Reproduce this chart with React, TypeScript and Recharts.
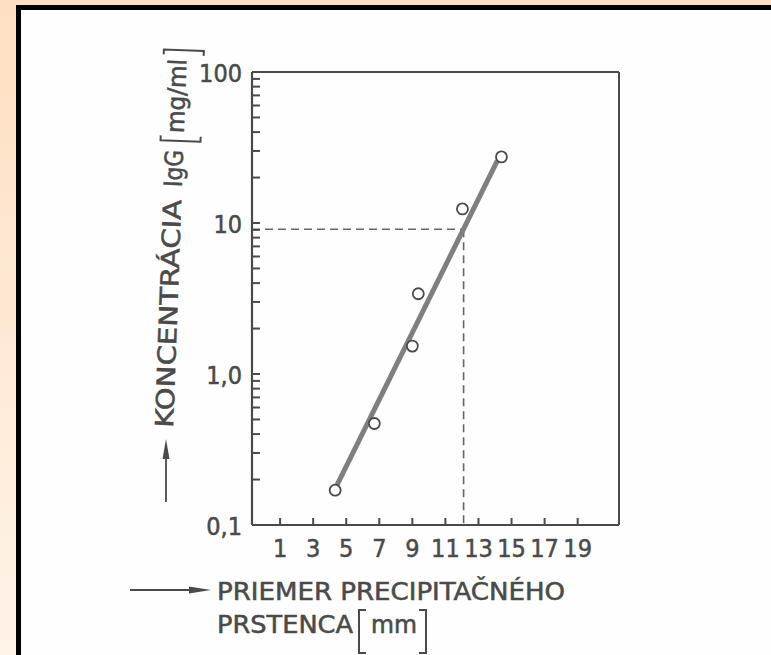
import { ComposedChart, Scatter, XAxis, YAxis, ReferenceLine } from 'recharts';

// measured values (diameter in mm, IgG in mg/ml)
const diameters = [4.33, 6.7, 9.0, 9.36, 12.03, 14.39];
const concentrations = [0.17, 0.47, 1.53, 3.4, 12.4, 27.4];

// hand-drawn calibration line
const fitDiameters = [4.38, 14.15];
const fitConcentrations = [0.178, 26];

// read-off of an unknown sample
const readDiameter = 12.1;
const readConcentration = 9.1;

const xTicks = [1, 3, 5, 7, 9, 11, 13, 15, 17, 19];
const yTicks = [
  0.1, 0.2, 0.3, 0.4, 0.5, 0.6, 0.7, 0.8, 0.9,
  1, 2, 3, 4, 5, 6, 7, 8, 9,
  10, 20, 30, 40, 50, 60, 70, 80, 90,
  100,
];
const yMajorTicks = [0.1, 1, 10, 100];
const yMajorLabels = ['0,1', '1,0', '10', '100'];

const X_MIN = -0.7;
const X_MAX = 21.5;
const Y_MIN = 0.1;
const Y_MAX = 100;

const INK = '#4a4a4a';
const FONT = "'Liberation Sans Narrow', 'DejaVu Sans Condensed', 'Liberation Sans', sans-serif";

const points = diameters.map((x, i) => ({ x, y: concentrations[i] }));
const fitLine = fitDiameters.map((x, i) => ({ x, y: fitConcentrations[i] }));
// tick marks sit on the axes, drawn inward
const yTickMarks = yTicks.map((y) => ({ x: X_MIN, y }));
const xTickMarks = xTicks.map((x) => ({ x, y: Y_MIN }));

const inkText = { fill: INK, stroke: INK, strokeWidth: 0.5, fontSize: 25, fontFamily: FONT };

function YTick({ x, y, payload }: any) {
  const i = yMajorTicks.indexOf(payload.value);
  if (i < 0) return <g />;
  return (
    <text x={x - 10} y={y + 10} textAnchor="end" {...inkText}>
      {yMajorLabels[i]}
    </text>
  );
}

function XTick({ x, y, payload }: any) {
  return (
    <text x={x} y={y + 32} textAnchor="middle" {...inkText}>
      {payload.value}
    </text>
  );
}

function Circle({ cx, cy }: any) {
  return <circle cx={cx} cy={cy} r={5.5} fill="#fff" stroke={INK} strokeWidth={1.8} />;
}

function YMark({ cx, cy }: any) {
  return <path d={`M${cx} ${cy} H${cx + 8}`} stroke={INK} strokeWidth={2} fill="none" />;
}

function XMark({ cx, cy }: any) {
  return <path d={`M${cx} ${cy} V${cy - 7}`} stroke={INK} strokeWidth={2} fill="none" />;
}

function Labels() {
  const txt = { ...inkText, lengthAdjust: 'spacingAndGlyphs' as const };
  return (
    <svg width={771} height={655} style={{ position: 'absolute', left: 0, top: 0, pointerEvents: 'none' }}>
      {/* y axis title, slightly skewed like the scan */}
      <g transform="translate(173 428) rotate(-87.9)">
        <text x={0} y={0} textLength={228} {...txt}>KONCENTRÁCIA</text>
        <text x={241} y={0} textLength={37} {...txt}>IgG</text>
        <path d="M292 -23 L287 -23 L287 17 L292 17" fill="none" stroke={INK} strokeWidth={2} />
        <text x={295} y={0} textLength={74} {...txt}>mg/ml</text>
        <path d="M373 -23 L378 -23 L378 17 L373 17" fill="none" stroke={INK} strokeWidth={2} />
      </g>
      <line x1={166} x2={166} y1={502} y2={455} stroke={INK} strokeWidth={1.8} />
      <path d="M166 439 L169.5 459 L162.5 459 Z" fill={INK} />

      {/* x axis title */}
      <line x1={130} x2={192} y1={590} y2={590} stroke={INK} strokeWidth={1.8} />
      <path d="M211 590 L189 586.5 L189 593.5 Z" fill={INK} />
      <text x={217} y={600} textLength={348} {...txt}>PRIEMER PRECIPITAČNÉHO</text>
      <text x={217} y={633} textLength={136} {...txt}>PRSTENCA</text>
      <path d="M366 610 L359 610 L359 653 L366 653" fill="none" stroke={INK} strokeWidth={2} />
      <text x={371} y={633} textLength={46} {...txt}>mm</text>
      <path d="M419 610 L426 610 L426 653 L419 653" fill="none" stroke={INK} strokeWidth={2} />
    </svg>
  );
}

export default function App() {
  return (
    <div
      style={{
        position: 'absolute',
        left: 0,
        top: 0,
        width: 771,
        height: 655,
        overflow: 'hidden',
        background: 'linear-gradient(to bottom, #ffdfc1, #fff3e7)',
      }}
    >
      <div
        style={{
          position: 'absolute',
          left: 16,
          top: 5,
          right: 0,
          bottom: 0,
          background: '#fefefe',
          borderLeft: '5px solid #000',
          borderTop: '5px solid #000',
        }}
      />
      <div style={{ position: 'absolute', left: 0, top: 0 }}>
        <ComposedChart width={771} height={655} margin={{ top: 72, right: 152, left: 192, bottom: 90 }}>
          <XAxis
            type="number"
            dataKey="x"
            domain={[X_MIN, X_MAX]}
            ticks={xTicks}
            interval={0}
            allowDataOverflow
            height={40}
            tickSize={0}
            tickMargin={0}
            tickLine={false}
            axisLine={{ stroke: INK, strokeWidth: 2.2 }}
            tick={<XTick />}
          />
          <YAxis
            type="number"
            dataKey="y"
            scale="log"
            domain={[Y_MIN, Y_MAX]}
            ticks={yTicks}
            interval={0}
            allowDataOverflow
            width={60}
            tickSize={0}
            tickMargin={0}
            tickLine={false}
            axisLine={{ stroke: INK, strokeWidth: 2.2 }}
            tick={<YTick />}
          />
          <ReferenceLine y={Y_MAX} stroke={INK} strokeWidth={2} />
          <ReferenceLine x={X_MAX} stroke={INK} strokeWidth={2} />
          <ReferenceLine
            segment={[{ x: X_MIN, y: readConcentration }, { x: readDiameter, y: readConcentration }]}
            stroke="#666"
            strokeWidth={1.6}
            strokeDasharray="8 5"
          />
          <ReferenceLine
            segment={[{ x: readDiameter, y: readConcentration }, { x: readDiameter, y: Y_MIN }]}
            stroke="#666"
            strokeWidth={1.6}
            strokeDasharray="8 5"
          />
          <Scatter data={yTickMarks} shape={<YMark />} isAnimationActive={false} />
          <Scatter data={xTickMarks} shape={<XMark />} isAnimationActive={false} />
          <Scatter
            data={fitLine}
            line={{ stroke: '#7f7f7f', strokeWidth: 5 }}
            shape={() => <g />}
            isAnimationActive={false}
          />
          <Scatter data={points} shape={<Circle />} isAnimationActive={false} />
        </ComposedChart>
      </div>
      <Labels />
    </div>
  );
}
